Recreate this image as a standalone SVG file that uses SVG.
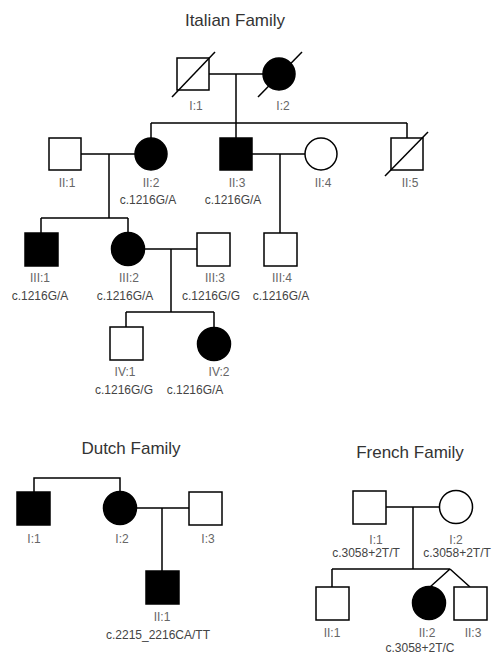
<svg xmlns="http://www.w3.org/2000/svg" width="495" height="662" viewBox="0 0 495 662">
<style>
.s{fill:#fff;stroke:#000;stroke-width:1.5}
.a{fill:#000;stroke:#000;stroke-width:1.5}
.ln{fill:none;stroke:#000;stroke-width:1.5}
.t{font-family:"Liberation Sans",Arial,sans-serif;font-size:17px;fill:#333;text-anchor:middle}
.l{font-family:"Liberation Sans",Arial,sans-serif;font-size:12px;fill:#666;text-anchor:middle}
.g{font-family:"Liberation Sans",Arial,sans-serif;font-size:12px;fill:#444;text-anchor:middle}
</style>
<rect width="495" height="662" fill="#fff"/>
<text class="t" x="235" y="26">Italian Family</text>
<text class="t" x="131" y="454">Dutch Family</text>
<text class="t" x="410" y="458">French Family</text>
<g id="connectors" class="ln">
<path d="M209 74H263M236 74V123M151 123H407M151 123V138M236 123V138M407 123V138"/>
<path d="M81 154H135M109 154V218M41 218H128M41 218V233M128 218V233"/>
<path d="M252 154H305M280 154V233"/>
<path d="M144 249H197M171 249V312M126 312H214M126 312V327M214 312V327"/>
<path d="M34 492V478H120V492M137 508H189M162 508V571"/>
<path d="M386 507H440M413 507V569M332 569H450M332 569V587M450 569L430 587M450 569L470 587"/>
</g>
<g id="it-I1"><rect class="s" x="177" y="58" width="32" height="32"/><path class="ln" d="M172 97L215 52"/><text class="l" x="196" y="110">I:1</text></g>
<g id="it-I2"><circle class="a" cx="279" cy="74" r="16"/><path class="ln" d="M258 97L302 52"/><text class="l" x="283" y="110">I:2</text></g>
<g id="it-II1"><rect class="s" x="49" y="138" width="32" height="32"/><text class="l" x="67" y="187">II:1</text></g>
<g id="it-II2"><circle class="a" cx="151" cy="154" r="16"/><text class="l" x="151" y="187">II:2</text><text class="g" x="148" y="204">c.1216G/A</text></g>
<g id="it-II3"><rect class="a" x="220" y="138" width="32" height="32"/><text class="l" x="237" y="187">II:3</text><text class="g" x="233" y="204">c.1216G/A</text></g>
<g id="it-II4"><circle class="s" cx="321" cy="154" r="16"/><text class="l" x="323" y="187">II:4</text></g>
<g id="it-II5"><rect class="s" x="391" y="138" width="32" height="32"/><path class="ln" d="M385 176L428 132"/><text class="l" x="410" y="187">II:5</text></g>
<g id="it-III1"><rect class="a" x="25" y="233" width="33" height="33"/><text class="l" x="40" y="282">III:1</text><text class="g" x="40" y="300">c.1216G/A</text></g>
<g id="it-III2"><circle class="a" cx="128" cy="249" r="16.5"/><text class="l" x="129" y="282">III:2</text><text class="g" x="125" y="300">c.1216G/A</text></g>
<g id="it-III3"><rect class="s" x="197" y="233" width="33" height="33"/><text class="l" x="215" y="282">III:3</text><text class="g" x="211" y="300">c.1216G/G</text></g>
<g id="it-III4"><rect class="s" x="264" y="233" width="33" height="33"/><text class="l" x="282" y="282">III:4</text><text class="g" x="281" y="300">c.1216G/A</text></g>
<g id="it-IV1"><rect class="s" x="110" y="327" width="33" height="33"/><text class="l" x="125" y="376">IV:1</text><text class="g" x="124" y="394">c.1216G/G</text></g>
<g id="it-IV2"><circle class="a" cx="214" cy="344" r="16.5"/><text class="l" x="219" y="376">IV:2</text><text class="g" x="195" y="394">c.1216G/A</text></g>
<g id="du-I1"><rect class="a" x="17" y="492" width="33" height="33"/><text class="l" x="34" y="543">I:1</text></g>
<g id="du-I2"><circle class="a" cx="120" cy="508" r="16.5"/><text class="l" x="122" y="543">I:2</text></g>
<g id="du-I3"><rect class="s" x="189" y="492" width="33" height="33"/><text class="l" x="208" y="543">I:3</text></g>
<g id="du-II1"><rect class="a" x="146" y="571" width="33" height="33"/><text class="l" x="162" y="621">II:1</text><text class="g" x="158" y="639">c.2215_2216CA/TT</text></g>
<g id="fr-I1"><rect class="s" x="353" y="491" width="33" height="33"/><text class="l" x="376" y="544">I:1</text><text class="g" x="366" y="557">c.3058+2T/T</text></g>
<g id="fr-I2"><circle class="s" cx="456" cy="507" r="16.5"/><text class="l" x="456" y="544">I:2</text><text class="g" x="457" y="557">c.3058+2T/T</text></g>
<g id="fr-II1"><rect class="s" x="316" y="587" width="33" height="33"/><text class="l" x="332" y="637">II:1</text></g>
<g id="fr-II2"><circle class="a" cx="429" cy="603" r="16.5"/><text class="l" x="427" y="637">II:2</text><text class="g" x="420" y="652">c.3058+2T/C</text></g>
<g id="fr-II3"><rect class="s" x="454" y="587" width="33" height="33"/><text class="l" x="473" y="637">II:3</text></g>
</svg>
